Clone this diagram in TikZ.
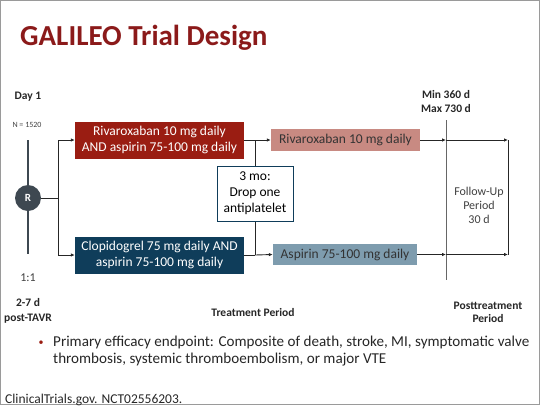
\documentclass[tikz,border=0pt]{standalone}
\usepackage{fontspec}
\setmainfont{Carlito}
\usepackage{xcolor}
\usetikzlibrary{arrows.meta, positioning, calc}
\definecolor{titlered}{HTML}{8B1A1A}
\definecolor{armred}{HTML}{9A1D12}
\definecolor{armblue}{HTML}{0F3D5A}
\definecolor{lightred}{HTML}{C88A82}
\definecolor{lightblue}{HTML}{7E9CAE}
\definecolor{rgrey}{HTML}{3E4851}
\definecolor{framegrey}{HTML}{9A9A9A}
\tikzset{
  arm/.style={rectangle, text=white, align=center, minimum width=169pt,
              minimum height=37pt, inner sep=1pt, font=\fontsize{13.5}{16}\selectfont},
  drug/.style={rectangle, text=black!80, align=center, minimum height=22pt,
               inner sep=1pt, font=\fontsize{13.5}{15}\selectfont},
  dropbox/.style={rectangle, draw=armblue, line width=1pt, fill=white, align=center,
                  minimum width=76pt, minimum height=55pt, inner sep=1pt,
                  font=\fontsize{13.5}{16}\selectfont},
  rand/.style={circle, fill=rgrey, text=white, minimum size=26pt, inner sep=0pt,
               font=\bfseries\fontsize{11}{12}\selectfont},
  arrow/.style={-{Latex[length=4pt,width=3.5pt]}, line width=0.9pt, black!85},
  conn/.style={line width=0.9pt, black!85},
  hd/.style={align=center, text=black!85, font=\bfseries\fontsize{11.5}{14}\selectfont},
  lbl/.style={align=center, text=black!75, font=\fontsize{12}{14}\selectfont},
}

\begin{document}
\begin{tikzpicture}[x=1pt, y=-1pt]
  \useasboundingbox (0,0) rectangle (540,405);
  \draw[framegrey, line width=1pt] (0.5,0.5) rectangle (539.5,404.5);

  % title
  \node[anchor=base west, inner sep=0pt, text=titlered,
        font=\bfseries\fontsize{29}{34}\selectfont] (title) at (20,45) {GALILEO Trial Design};

  % randomisation
  \coordinate (rtop) at (28,140);
  \coordinate (rbot) at (28,254);
  \draw[rgrey, line width=2pt] (rtop) -- (rbot);
  \node[rand] (r) at (28,198) {R};
  \node[hd]  (day1) at (28,97) {Day 1};
  \node[lbl, font=\fontsize{8}{9}\selectfont] (n) at (27,125) {N = 1520};
  \node[lbl] (ratio) at (28,278) {1:1};
  \node[hd, font=\bfseries\fontsize{11.5}{15}\selectfont] (post) at (28,310.5) {2-7 d\\post-TAVR};

  % treatment arms
  \node[arm, fill=armred]  (riva)  at (159.5,140) {Rivaroxaban 10 mg daily\\AND aspirin 75-100 mg daily};
  \node[arm, fill=armblue] (clopi) at (159.5,255) {Clopidogrel 75 mg daily AND\\aspirin 75-100 mg daily};
  \node[drug, fill=lightred,  minimum width=149pt] (rivamono) at (345.5,140) {Rivaroxaban 10 mg daily};
  \node[drug, fill=lightblue, minimum width=144pt, minimum height=21pt] (asamono) at (345,254.5) {Aspirin 75-100 mg daily};

  \coordinate (split) at (58,198);
  \coordinate (splittop) at (58,140);
  \coordinate (splitbot) at (58,255);
  \draw[conn] (r) -- (split);
  \draw[conn] (splittop) -- (splitbot);
  \draw[arrow] (splittop) -- (riva.west);
  \draw[arrow] (splitbot) -- (clopi.west);

  \coordinate (jtop) at (255,140);
  \coordinate (jbot) at (255,255);
  \draw[conn] (riva.east) -- (jtop);
  \draw[conn] (clopi.east) -- (jbot);
  \draw[conn] (jtop) -- (jbot);
  \draw[arrow] (jtop) -- (rivamono.west);
  \draw[arrow] (jbot) -- (asamono.west);
  \node[dropbox] (drop) at (255,193.5) {3 mo:\\Drop one\\antiplatelet};

  % end of treatment and follow-up
  \coordinate (mtop) at (446,120);
  \coordinate (mbot) at (446,280);
  \draw[black!60, line width=0.7pt] (mtop) -- (mbot);
  \node[hd] (minmax) at (446,102) {Min 360 d\\Max 730 d};

  \coordinate (m1) at (446,140);
  \coordinate (m2) at (446,254.5);
  \coordinate (e1) at (508,140);
  \coordinate (e2) at (508,254.5);
  \draw[arrow] (rivamono.east) -- (m1);
  \draw[arrow] (asamono.east) -- (m2);
  \draw[arrow] (m1) -- (e1);
  \draw[arrow] (m2) -- (e2);
  \draw[conn, line width=0.7pt] (e1) -- (e2);
  \node[lbl] (fu) at (479,205) {Follow-Up\\Period\\30 d};

  % periods
  \node[hd] (treat) at (253,312) {Treatment Period};
  \node[hd, font=\bfseries\fontsize{11.5}{13.5}\selectfont] (posttreat) at (488,312.5) {Posttreatment\\Period};

  % endpoint and source
  \node[text=armred, inner sep=0pt, font=\fontsize{10}{12}\selectfont] (bullet) at (41,343) {•};
  \node[anchor=north west, align=left, inner sep=0pt, text=black!85,
        font=\fontsize{15.1}{17}\selectfont] (endpoint) at (53,335.5)
        {Primary efficacy endpoint: Composite of death, stroke, MI, symptomatic valve\\
         thrombosis, systemic thromboembolism, or major VTE};
  \node[anchor=base west, inner sep=0pt, text=black!85,
        font=\fontsize{13.5}{16}\selectfont] (source) at (5,403) {ClinicalTrials.gov. NCT02556203.};
\end{tikzpicture}
\end{document}
